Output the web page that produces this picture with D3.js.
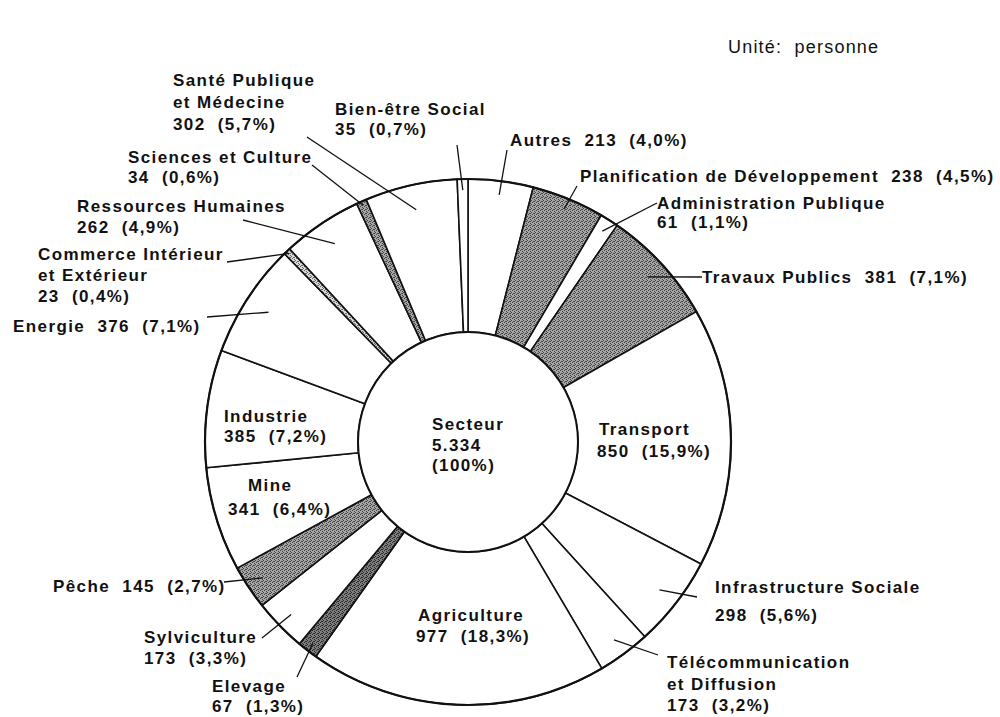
<!DOCTYPE html>
<html>
<head>
<meta charset="utf-8">
<script src="https://cdn.jsdelivr.net/npm/d3@7"></script>
<style>
  body { margin: 0; background: #fff; }
  text { font-family: "Liberation Sans", Arial, sans-serif; font-size: 17px; font-weight: bold; letter-spacing: 1.4px; fill: #111; white-space: pre; }
  .unit { font-weight: normal; font-size: 18px; letter-spacing: 1.2px; }
</style>
</head>
<body>
<script>
// sectors clockwise from 12 o'clock
const sectors = ["Autres", "Planification de Développement", "Administration Publique", "Travaux Publics",
  "Transport", "Infrastructure Sociale", "Télécommunication et Diffusion", "Agriculture", "Elevage",
  "Sylviculture", "Pêche", "Mine", "Industrie", "Energie", "Commerce Intérieur et Extérieur",
  "Ressources Humaines", "Sciences et Culture", "Santé Publique et Médecine", "Bien-être Social"];
const values = [213, 238, 61, 381, 850, 298, 173, 977, 67, 173, 145, 341, 385, 376, 23, 262, 34, 302, 35];
const percents = ["4,0%", "4,5%", "1,1%", "7,1%", "15,9%", "5,6%", "3,2%", "18,3%", "1,3%", "3,3%",
  "2,7%", "6,4%", "7,2%", "7,1%", "0,4%", "4,9%", "0,6%", "5,7%", "0,7%"];
// how each name is broken on the page
const nameLines = [["Autres"], ["Planification de Développement"], ["Administration Publique"], ["Travaux Publics"],
  ["Transport"], ["Infrastructure Sociale"], ["Télécommunication", "et Diffusion"], ["Agriculture"], ["Elevage"],
  ["Sylviculture"], ["Pêche"], ["Mine"], ["Industrie"], ["Energie"], ["Commerce Intérieur", "et Extérieur"],
  ["Ressources Humaines"], ["Sciences et Culture"], ["Santé Publique", "et Médecine"], ["Bien-être Social"]];
const centerTitle = "Secteur";
const unitLabel = "Unité:  personne";

// label placement (x, first baseline, line step, value on same line, leader start, leader depth)
const layout = [
  {x: 510, y: 146, inline: true, lead: [507, 150], lr: 249},
  {x: 580, y: 182, inline: true, lead: [577, 186], lr: 252},
  {x: 657, y: 209, dy: 19, lead: [657, 203], lr: 250},
  {x: 702, y: 283, inline: true, lead: [702, 277], lr: 244},
  {x: 599, y: 435, dy: 22, xv: 597},
  {x: 715, y: 593, dy: 28, lead: [697, 597], lr: 242},
  {x: 667, y: 668, dy: 21.5, lead: [658, 655], lr: 246},
  {x: 418, y: 621, dy: 21, xv: 416},
  {x: 212, y: 692, dy: 19.5, lead: [297, 677], lr: 254},
  {x: 144, y: 643, dy: 21, lead: [262, 638], lr: 247},
  {x: 53, y: 592, inline: true, lead: [224, 582], lr: 246},
  {x: 248, y: 491, dy: 24, xv: 228},
  {x: 224, y: 422, dy: 20},
  {x: 13, y: 332, inline: true, lead: [207, 317], lr: 238},
  {x: 38, y: 260, dy: 21, lead: [227, 262], lr: 260},
  {x: 77, y: 212, dy: 21, lead: [243, 220], lr: 239},
  {x: 128, y: 163, dy: 20, lead: [312, 165], lr: 259},
  {x: 173, y: 86, dy: 22, lead: [307, 137], lr: 238},
  {x: 335, y: 115, dy: 20, lead: [457, 145], lr: 252}
];

const fills = {
  "Planification de Développement": "url(#stip)",
  "Travaux Publics": "url(#stip)",
  "Pêche": "url(#stip)",
  "Sciences et Culture": "url(#stip)",
  "Elevage": "url(#stipDark)",
  "Commerce Intérieur et Extérieur": "url(#stipLight)"
};

const width = 1000, height = 717;
const cx = 468, cy = 442, rOuter = 263, rInner = 110;

const svg = d3.select("body").append("svg")
  .attr("width", width)
  .attr("height", height);

// stipple patterns
const defs = svg.append("defs");
function stipple(id, bg, dot) {
  const p = defs.append("pattern").attr("id", id)
    .attr("width", 4).attr("height", 4).attr("patternUnits", "userSpaceOnUse");
  p.append("rect").attr("width", 4).attr("height", 4).attr("fill", bg);
  [[0, 0], [2, 1], [1, 3], [3, 2], [2, 3]].forEach(function (q) {
    p.append("rect").attr("x", q[0]).attr("y", q[1]).attr("width", 1).attr("height", 1).attr("fill", dot);
  });
}
stipple("stip", "#a6a6a6", "#444");
stipple("stipDark", "#7e7e7e", "#2a2a2a");
stipple("stipLight", "#d8d8d8", "#666");

const data = sectors.map(function (s, i) { return {name: s, value: values[i], pct: percents[i], lines: nameLines[i], pos: layout[i]}; });

const pie = d3.pie().sort(null).value(function (d) { return d.value; });
const arcs = pie(data);
const arc = d3.arc().innerRadius(rInner).outerRadius(rOuter);

const g = svg.append("g").attr("transform", "translate(" + cx + "," + cy + ")");

g.selectAll("path.slice")
  .data(arcs)
  .enter()
  .append("path")
  .attr("class", "slice")
  .attr("d", arc)
  .attr("fill", function (d) { return fills[d.data.name] || "#fff"; })
  .attr("stroke", "#111")
  .attr("stroke-width", 1.6)
  .attr("stroke-linejoin", "round");

// heavier outer and inner rims
g.append("circle").attr("r", rOuter).attr("fill", "none").attr("stroke", "#111").attr("stroke-width", 2.2);
g.append("circle").attr("r", rInner).attr("fill", "#fff").attr("stroke", "#111").attr("stroke-width", 2);

// leader lines
function polar(a, r) { return [cx + r * Math.sin(a), cy - r * Math.cos(a)]; }
svg.selectAll("line.lead")
  .data(arcs.filter(function (d) { return d.data.pos.lead; }))
  .enter()
  .append("line")
  .attr("class", "lead")
  .attr("x1", function (d) { return d.data.pos.lead[0]; })
  .attr("y1", function (d) { return d.data.pos.lead[1]; })
  .attr("x2", function (d) { return polar((d.startAngle + d.endAngle) / 2, d.data.pos.lr)[0]; })
  .attr("y2", function (d) { return polar((d.startAngle + d.endAngle) / 2, d.data.pos.lr)[1]; })
  .attr("stroke", "#111")
  .attr("stroke-width", 1.3);

// labels
const labels = svg.selectAll("text.lab")
  .data(data)
  .enter()
  .append("text")
  .attr("class", "lab")
  .attr("xml:space", "preserve");

labels.each(function (d) {
  const t = d3.select(this);
  const valTxt = d.value + "  (" + d.pct + ")";
  let rows = d.lines.slice();
  if (d.pos.inline) rows[rows.length - 1] = rows[rows.length - 1] + "  " + valTxt;
  else rows.push(valTxt);
  rows.forEach(function (r, i) {
    const last = !d.pos.inline && i === rows.length - 1;
    t.append("tspan")
      .attr("x", last && d.pos.xv ? d.pos.xv : d.pos.x)
      .attr("y", d.pos.y + i * (d.pos.dy || 20))
      .text(r);
  });
});

// centre
const fmt = d3.formatLocale({decimal: ",", thousands: ".", grouping: [3], currency: ["", ""]}).format(",");
const centre = svg.append("text").attr("xml:space", "preserve");
[centerTitle, fmt(d3.sum(values)), "(100%)"].forEach(function (r, i) {
  centre.append("tspan").attr("x", 432).attr("y", 430 + i * 20.5).text(r);
});

svg.append("text")
  .attr("class", "unit")
  .attr("xml:space", "preserve")
  .attr("x", 728)
  .attr("y", 53)
  .text(unitLabel);
</script>
</body>
</html>
